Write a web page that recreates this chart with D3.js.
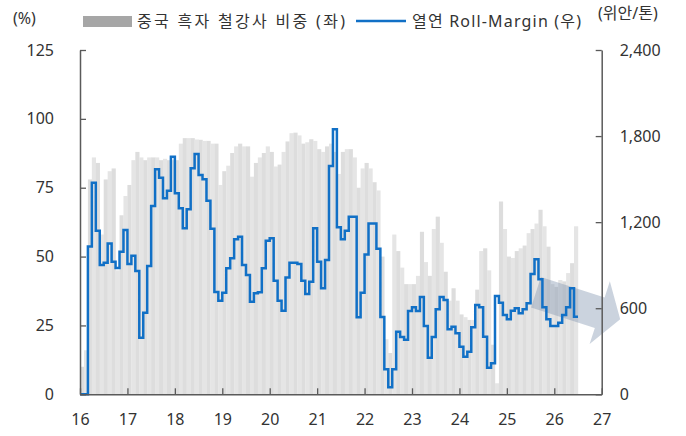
<!DOCTYPE html>
<html><head><meta charset="utf-8">
<script src="https://cdn.jsdelivr.net/npm/d3@7"></script>
<style>
html,body{margin:0;padding:0;background:#fff;}
svg{display:block;font-family:"Noto Sans","Noto Sans CJK KR",sans-serif;}
</style></head>
<body><div id="chart"></div>
<script>
// ---- data (monthly, Jan 2016 .. Jun 2026) ----
const startYear = 16;              // first category: 2016-01
const monthCount = 126;            // through 2026-06
// 중국 흑자 철강사 비중 (%), left axis
const shareProfitable = [
  10,16,78,86,84,58,78,81,82,45,65,72,
  76,85,88,86,85,86,86,86,85,85.5,85,85,
  85,91,93,93,93,92.5,92.4,92,92,91,91,76,
  81,83,87.6,90,91,90,90,79,84,86,87.6,90,
  88,82.7,83.4,88,91.8,94.8,95,94,91,91.5,92.6,92,
  89,88,90,91,88,80,88,89,89,86,75,82,
  84,82,77,74,50,20,15,58,52,46,40,40,
  40,43,59,48,43,60,64.5,55,44.5,34,38.5,34,
  29,28,27,27,38,52,53,45,18,4,70,60,
  50,49.5,52,53,54,58.5,60,62,67,61,53.6,40,
  39,41.5,41,44,47.6,61
];
// 열연 Roll-Margin (위안/톤), right axis
const rollMargin = [
  0,0,1030,1475,1140,901,917,1052,924,880,994,1145,
  908,966,859,395,569,894,1313,1568,1510,1366,1419,1656,
  1401,1297,1157,1290,1575,1675,1529,1499,1350,1154,713,652,
  708,878,948,1080,1099,901,831,646,704,711,878,1071,
  1087,792,652,583,815,917,917,908,792,699,785,1157,
  924,739,936,1591,1847,1164,1080,1140,1238,1238,537,708,
  975,1190,1190,1015,539,174,49,174,436,400,380,580,
  606,580,678,476,255,399,592,678,657,453,471,425,
  332,262,297,467,622,606,401,185,216,685,638,553,
  523,583,599,565,592,634,838,941,802,606,523,476,
  476,499,553,606,739,541
];
const xTicks = [16,17,18,19,20,21,22,23,24,25,26,27];
const leftTicks = [0,25,50,75,100,125];
const rightTicks = [0,600,1200,1800,2400];
const legendLabels = ["중국 흑자 철강사 비중 (좌)", "열연 Roll-Margin (우)"];
const leftUnit = "(%)";
const rightUnit = "(위안/톤)";
// trend arrow annotation, in data units (year, right-axis value)
const arrowFrom = [25.614, 712];
const arrowTo = [27.39, 523];

// ---- layout ----
const W = 686, H = 436;
const svg = d3.select("#chart").append("svg").attr("width", W).attr("height", H);
const x = d3.scaleLinear().domain([16, 27]).range([80, 601.7]);
const yL = d3.scaleLinear().domain([0, 125]).range([394.3, 50]);
const yR = d3.scaleLinear().domain([0, 2400]).range([394.3, 50]);

const months = d3.range(monthCount).map(i => ({
  i, t0: startYear + i / 12, t1: startYear + (i + 1) / 12,
  share: shareProfitable[i], margin: rollMargin[i]
}));

// bars
svg.append("g").selectAll("rect").data(months).join("rect")
  .attr("x", d => x(d.t0))
  .attr("width", d => x(d.t1) - x(d.t0) + 0.2)
  .attr("y", d => yL(d.share))
  .attr("height", d => yL(0) - yL(d.share))
  .attr("fill", d => d.i % 2 ? "#e5e5e5" : "#dddddd");

// arrow
(function(){
  const p0 = [x(arrowFrom[0]), yR(arrowFrom[1])];
  const p1 = [x(arrowTo[0]), yR(arrowTo[1])];
  const dx = p1[0]-p0[0], dy = p1[1]-p0[1];
  const L = Math.hypot(dx, dy);
  const u = [dx/L, dy/L], v = [-u[1], u[0]];
  const shaftHalf = 16, headHalf = 33, headLen = 21.5;
  const P = (a, b) => [p0[0]+u[0]*a+v[0]*b, p0[1]+u[1]*a+v[1]*b];
  const pts = [P(0,-shaftHalf), P(L-headLen,-shaftHalf), P(L-headLen,-headHalf), P(L,0),
               P(L-headLen,headHalf), P(L-headLen,shaftHalf), P(0,shaftHalf)];
  svg.append("path").attr("d", "M" + pts.map(p => p.join(",")).join("L") + "Z")
    .attr("fill", "#8497b0").attr("fill-opacity", 0.42);
})();

// step line
const linePts = months.flatMap(d => [[d.t0, d.margin], [d.t1, d.margin]]);
svg.append("path")
  .attr("d", d3.line().x(d => x(d[0])).y(d => yR(d[1]))(linePts))
  .attr("fill", "none").attr("stroke", "#1170c6").attr("stroke-width", 2.5)
  .attr("stroke-linejoin", "miter");

// axes
const axisColor = "#5a5a5a", textColor = "#333";
function styleAxis(g){
  g.selectAll("path.domain").attr("stroke", axisColor).attr("stroke-width", 1.5);
  g.selectAll(".tick line").attr("stroke", axisColor).attr("stroke-width", 1.3);
  g.selectAll("text").attr("fill", textColor).attr("font-size", 16)
    .attr("font-family", "'Noto Sans','Noto Sans CJK KR',sans-serif");
}
svg.append("g").attr("transform", `translate(${x(16)},0)`)
  .call(d3.axisLeft(yL).tickValues(leftTicks).tickSizeInner(-6).tickSizeOuter(0).tickPadding(26))
  .call(styleAxis);
svg.append("g").attr("transform", `translate(${x(27)},0)`)
  .call(d3.axisRight(yR).tickValues(rightTicks).tickSizeInner(-6).tickSizeOuter(0)
        .tickPadding(18).tickFormat(d3.format(",")))
  .call(styleAxis);
svg.append("g").attr("transform", `translate(0,${yL(0)})`)
  .call(d3.axisBottom(x).tickValues(xTicks).tickSizeInner(-6).tickSizeOuter(0).tickPadding(19)
        .tickFormat(d3.format("d")))
  .call(styleAxis);

// unit labels
svg.append("text").attr("x", 13).attr("y", 24).attr("font-size", 16).attr("fill", textColor).text(leftUnit);
svg.append("text").attr("x", 598).attr("y", 19).attr("font-size", 16).attr("fill", textColor).text(rightUnit);

// legend
svg.append("rect").attr("x", 83).attr("y", 16).attr("width", 49).attr("height", 11).attr("fill", "#a6a6a6");
svg.append("text").attr("x", 137).attr("y", 27).attr("font-size", 16).attr("fill", textColor)
  .attr("textLength", 208).attr("lengthAdjust", "spacing").text(legendLabels[0]);
svg.append("line").attr("x1", 356).attr("x2", 406).attr("y1", 21).attr("y2", 21)
  .attr("stroke", "#1170c6").attr("stroke-width", 2.5);
svg.append("text").attr("x", 412).attr("y", 27).attr("font-size", 16).attr("fill", textColor)
  .attr("textLength", 169).attr("lengthAdjust", "spacing").text(legendLabels[1]);
</script>
</body></html>
